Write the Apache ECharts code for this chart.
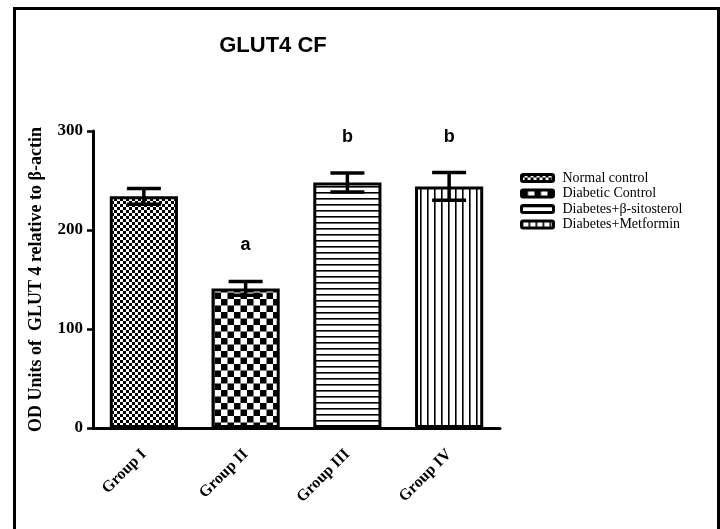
<!DOCTYPE html>
<html>
<head>
<meta charset="utf-8">
<script src="https://cdn.jsdelivr.net/npm/echarts@6/dist/echarts.min.js"></script>
<style>
html,body{margin:0;padding:0;background:#fff}
#main{width:720px;height:529px}
</style>
</head>
<body>
<div id="main"></div>
<script>
var groups = ['Group I', 'Group II', 'Group III', 'Group IV']
var legendNames = ['Normal control', 'Diabetic Control', 'Diabetes+\u03b2-sitosterol', 'Diabetes+Metformin']
var means = [234, 141, 248, 244]
var sems = [8, 7, 9.5, 14]
var letters = ['', 'a', 'b', 'b']
var yTicks = [0, 100, 200, 300]

// 填充图案
function makePattern(kind){
	var c = document.createElement('canvas')
	var ctx = c.getContext('2d')
	if(kind == 'fine' || kind == 'coarse'){
		var n = kind == 'fine' ? 6 : 13
		c.width = n; c.height = n
		ctx.fillStyle = '#fff'
		ctx.fillRect(0, 0, n, n)
		ctx.fillStyle = '#000'
		ctx.fillRect(0, 0, n/2, n/2)
		ctx.fillRect(n/2, n/2, n/2, n/2)
	}else if(kind == 'hline'){
		c.width = 6; c.height = 6.5
		ctx.fillStyle = '#fff'
		ctx.fillRect(0, 0, 6, 7)
		ctx.fillStyle = '#000'
		ctx.fillRect(0, 0, 6, 1.6)
	}else{
		c.width = 7; c.height = 6
		ctx.fillStyle = '#fff'
		ctx.fillRect(0, 0, 7, 6)
		ctx.fillStyle = '#000'
		ctx.fillRect(0, 0, 1.6, 6)
	}
	return {image: c, repeat: 'repeat'}
}
var patterns = [makePattern('fine'), makePattern('coarse'), makePattern('hline'), makePattern('vline')]

var chart = echarts.init(document.getElementById('main'))

var series = []
for(var i = 0; i < groups.length; i++){
	var d = groups.map(function(g, j){ return j == i ? means[j] : '-' })
	series.push({
		name: legendNames[i],
		type: 'bar',
		data: d,
		barWidth: '67%',
		barGap: '-100%',
		itemStyle: {color: patterns[i], borderColor: '#000', borderWidth: 3},
		emphasis: {disabled: true}
	})
}

// 误差线和显著性字母
series.push({
	type: 'custom',
	data: groups.map(function(g, j){ return [j, means[j], sems[j]] }),
	z: 10,
	renderItem: function(params, api){
		var x = api.value(0)
		var m = api.value(1)
		var e = api.value(2)
		var top = api.coord([x, m + e])
		var bot = api.coord([x, m - e])
		var hw = 17
		var st = {stroke: '#000', lineWidth: 3.5}
		var kids = [
			{type: 'line', shape: {x1: top[0], y1: top[1], x2: bot[0], y2: bot[1]}, style: st},
			{type: 'line', shape: {x1: top[0]-hw, y1: top[1], x2: top[0]+hw, y2: top[1]}, style: st},
			{type: 'line', shape: {x1: bot[0]-hw, y1: bot[1], x2: bot[0]+hw, y2: bot[1]}, style: st}
		]
		if(letters[x]){
			kids.push({type: 'text', x: top[0], y: top[1] - 36, style: {
				text: letters[x], font: 'bold 18px "Liberation Sans", Arial', fill: '#000',
				align: 'center', verticalAlign: 'middle'}})
		}
		return {type: 'group', children: kids}
	}
})

chart.setOption({
	animation: false,
	backgroundColor: '#fff',
	title: {
		text: 'GLUT4 CF',
		left: 268, top: 30, textAlign: 'center',
		textStyle: {fontFamily: '"Liberation Sans", Arial', fontWeight: 'bold', fontSize: 22, color: '#000'}
	},
	graphic: [{
		type: 'rect', left: 12, top: 6,
		shape: {width: 704, height: 540},
		style: {fill: 'none', stroke: '#000', lineWidth: 3}
	}],
	legend: {
		orient: 'vertical',
		left: 515, top: 166,
		itemWidth: 32, itemHeight: 7, itemGap: 1.5,
		icon: 'roundRect',
		selectedMode: false,
		textStyle: {fontFamily: '"Liberation Serif", "Times New Roman"', fontSize: 14, color: '#000', padding: [0, 0, 0, 4]},
		data: legendNames.map(function(n, i){
			return {name: n, itemStyle: {color: patterns[i], borderColor: '#000', borderWidth: 3}}
		})
	},
	grid: {left: 93, right: 220, top: 131, bottom: 101},
	xAxis: {
		type: 'category',
		data: groups,
		axisLine: {lineStyle: {color: '#000', width: 3}},
		axisTick: {alignWithLabel: true, length: 6, lineStyle: {width: 2.5, color: '#000'}},
		axisLabel: {rotate: 45, margin: 24, color: '#000', fontFamily: '"Liberation Serif", "Times New Roman"', fontWeight: 'bold', fontSize: 16}
	},
	yAxis: {
		type: 'value',
		min: yTicks[0], max: yTicks[yTicks.length-1], interval: 100,
		name: 'OD Units of  GLUT 4 relative to \u03b2-actin',
		nameLocation: 'middle', nameGap: 48,
		nameTextStyle: {color: '#000', fontFamily: '"Liberation Serif", "Times New Roman"', fontWeight: 'bold', fontSize: 18},
		splitLine: {show: false},
		axisLine: {show: true, lineStyle: {color: '#000', width: 3}},
		axisTick: {show: true, length: 6, lineStyle: {width: 2.5, color: '#000'}},
		axisLabel: {margin: 10, color: '#000', fontFamily: '"Liberation Serif", "Times New Roman"', fontWeight: 'bold', fontSize: 17}
	},
	series: series
})
</script>
</body>
</html>
